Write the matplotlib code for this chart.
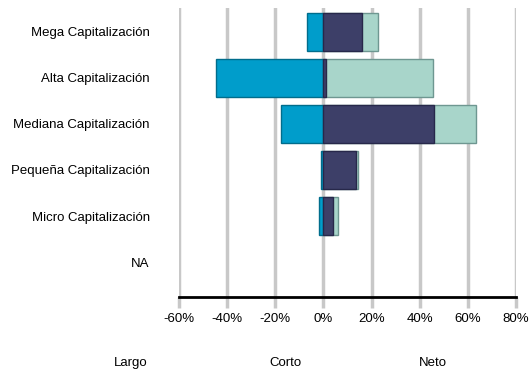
import numpy as np
import matplotlib
matplotlib.use("Agg")
from matplotlib import pyplot as plt

plt.rcParams['font.family'] = ['Liberation Sans', 'DejaVu Sans']

categorias = ["Mega Capitalización", "Alta Capitalización", "Mediana Capitalización",
              "Pequeña Capitalización", "Micro Capitalización", "NA"]
largo = [22.8, 45.7, 63.5, 14.5, 5.9, 0.0]
corto = [-6.8, -44.5, -17.6, -0.9, -2.0, 0.0]
neto = [16.0, 1.0, 45.9, 13.6, 3.9, 0.0]
ticks = [-60, -40, -20, 0, 20, 40, 60, 80]

col_largo, edge_largo = "#a8d5ca", "#6e9791"
col_corto, edge_corto = "#009dcb", "#006d8c"
col_neto, edge_neto = "#3d3f68", "#27284a"

fig = plt.figure(figsize=(5.31, 3.72), dpi=100)
ax = fig.add_axes([179 / 531, 1 - 297 / 372, 337 / 531, 289 / 372])

y = np.arange(len(categorias))
h = 0.81
for i in range(len(categorias)):
    if largo[i] != 0:
        ax.barh(y[i], largo[i], height=h, color=col_largo, edgecolor=edge_largo, linewidth=1, zorder=3)
    if corto[i] != 0:
        ax.barh(y[i], corto[i], height=h, color=col_corto, edgecolor=edge_corto, linewidth=1, zorder=4)
    if neto[i] != 0:
        ax.barh(y[i], neto[i], height=h, color=col_neto, edgecolor=edge_neto, linewidth=1, zorder=5)

ax.set_xlim(-60, 80)
ax.set_ylim(len(categorias) - 0.24, -0.52)
ax.set_xticks(ticks)
ax.set_xticklabels([f"{t}%" for t in ticks], fontsize=9.5)
ax.set_yticks(y)
ax.set_yticklabels(categorias, fontsize=9.5)
ax.tick_params(axis='y', length=0, pad=21)
ax.tick_params(axis='x', length=8, width=2.5, color="#c8c8c8", pad=3.5)
ax.xaxis.grid(True, color="#c8c8c8", linewidth=2.5, zorder=0)
ax.set_axisbelow(True)
for s in ["top", "right", "left"]:
    ax.spines[s].set_visible(False)
ax.spines["bottom"].set_color("black")
ax.spines["bottom"].set_linewidth(2)
ax.spines["bottom"].set_zorder(6)

for label, xpos in [("Largo", 131), ("Corto", 285), ("Neto", 433)]:
    fig.text(xpos / 531, 1 - 363 / 372, label, ha="center", va="center", fontsize=9.5)

fig.savefig("out.png", dpi=100)
